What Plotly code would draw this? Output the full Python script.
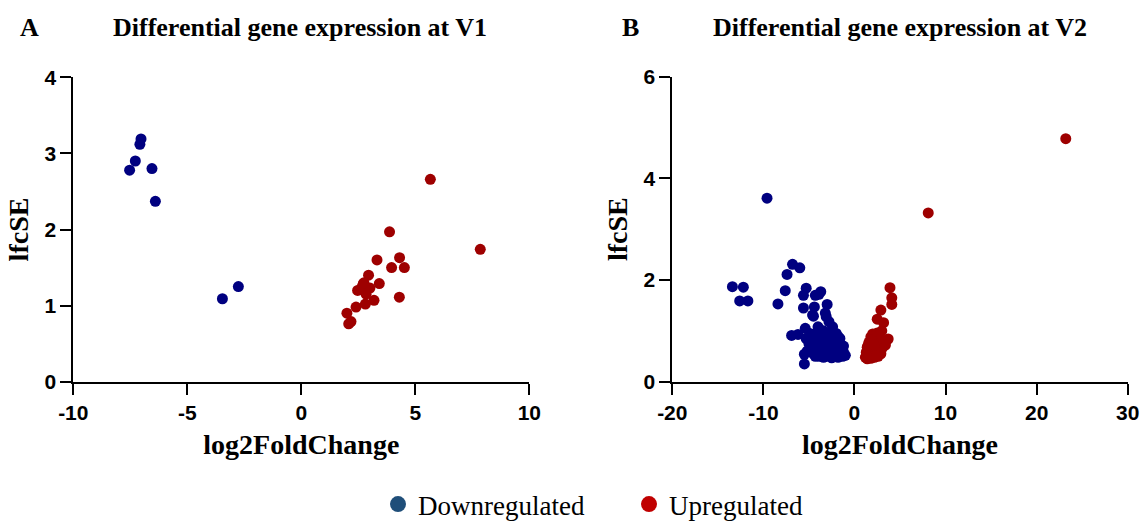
import plotly.graph_objects as go

# ---------------- data ----------------
v1_down_x = [-7.03, -7.08, -7.28, -7.53, -6.55, -6.40, -3.46, -2.76]
v1_down_y = [3.19, 3.12, 2.90, 2.78, 2.80, 2.37, 1.09, 1.25]
v1_up_x = [5.66, 3.87, 7.85, 3.32, 4.31, 3.96, 4.52, 2.95, 3.42, 2.72, 2.47,
           2.65, 3.01, 2.84, 2.75, 3.19, 4.30, 2.81, 2.40, 2.00, 2.08, 2.18]
v1_up_y = [2.66, 1.97, 1.74, 1.60, 1.63, 1.50, 1.50, 1.40, 1.29, 1.29, 1.20,
           1.24, 1.23, 1.15, 1.30, 1.07, 1.11, 1.02, 0.98, 0.90, 0.76, 0.79]

v2_down_x = [-9.6, -13.4, -12.2, -12.6, -11.7, -8.4, -7.6, -7.4, -6.8, -6.0,
             -6.9, -6.2, -5.5, -5.5, -5.3, -5.6, -5.6, -5.4, -4.3, -3.7, -3.9,
             -4.4, -4.5, -3.0, -3.1, -4.0, -2.4, -1.8, -3.2, -2.8, -4.6, -3.4,
             -5.0, -4.8, -4.7, -4.5, -4.4, -4.2, -4.1, -4.0, -3.9, -3.8, -3.7,
             -3.6, -3.5, -3.4, -3.3, -3.2, -3.1, -3.0, -2.9, -2.8, -2.7, -2.6,
             -2.5, -2.4, -2.3, -2.2, -2.1, -2.0, -1.9, -1.8, -1.7, -1.6, -1.5,
             -1.4, -1.3, -1.2, -1.0, -4.6, -4.3, -3.95, -3.55, -3.25, -2.95,
             -2.65, -2.35, -5.2, -5.3, -4.9, -2.5, -2.0, -1.6, -1.2]
v2_down_y = [3.61, 1.87, 1.86, 1.59, 1.59, 1.53, 1.79, 2.11, 2.31, 2.24,
             0.91, 0.93, 0.54, 0.35, 1.84, 1.70, 1.45, 1.05, 1.70, 1.77, 1.72,
             1.47, 1.29, 1.52, 1.28, 1.08, 1.08, 0.89, 1.35, 1.18, 1.31, 1.00,
             0.75, 0.62, 0.85, 0.55, 0.72, 0.95, 0.60, 0.82, 0.50, 0.68, 0.90,
             0.58, 0.77, 0.48, 0.65, 0.86, 0.55, 0.72, 0.95, 0.50, 0.62, 0.80,
             0.47, 0.70, 0.58, 0.88, 0.52, 0.66, 0.75, 0.48, 0.60, 0.70, 0.55,
             0.63, 0.50, 0.58, 0.52, 0.68, 0.50, 0.75, 0.65, 0.52, 0.60,
             0.72, 0.52, 0.60, 0.85, 0.95, 1.00, 0.95, 0.85, 0.70]

v2_up_x = [23.2, 8.1, 3.9, 4.1, 4.1, 2.9, 2.5, 3.2, 3.0, 3.7, 3.4,
           1.2, 1.3, 1.4, 1.5, 1.6, 1.7, 1.8, 1.8, 1.9, 2.0, 2.0, 2.1, 2.2,
           2.2, 2.3, 2.4, 2.4, 2.5, 2.6, 2.6, 2.7, 2.8, 2.9, 3.0, 1.4, 1.6,
           1.9, 2.1, 2.3, 1.7, 2.5, 2.7, 1.3, 1.5, 1.9, 2.2]
v2_up_y = [4.78, 3.32, 1.85, 1.65, 1.52, 1.41, 1.23, 1.16, 1.00, 0.84, 0.72,
           0.48, 0.58, 0.68, 0.50, 0.78, 0.60, 0.88, 0.46, 0.70, 0.55, 0.94, 0.80, 0.48,
           0.65, 0.90, 0.58, 0.75, 0.85, 0.50, 0.68, 0.60, 0.75, 0.55, 0.65, 0.45, 0.62,
           0.52, 0.60, 0.52, 0.72, 0.96, 0.90, 0.52, 0.72, 0.82, 0.72]

x1_ticks = [-10, -5, 0, 5, 10]
y1_ticks = [0, 1, 2, 3, 4]
x2_ticks = [-20, -10, 0, 10, 20, 30]
y2_ticks = [0, 2, 4, 6]

# ---------------- styles ----------------
DOWN = "#000080"
UP = "#9E0000"
LEG_DOWN = "#1F4E79"
LEG_UP = "#C00000"
SERIF = "Liberation Serif, Times New Roman, serif"
SANS = "Liberation Sans, Arial, sans-serif"
MS = 11

fig = go.Figure()
fig.add_trace(go.Scatter(x=v1_down_x, y=v1_down_y, mode="markers", xaxis="x", yaxis="y",
                         marker=dict(color=DOWN, size=MS), showlegend=False))
fig.add_trace(go.Scatter(x=v1_up_x, y=v1_up_y, mode="markers", xaxis="x", yaxis="y",
                         marker=dict(color=UP, size=MS), showlegend=False))
fig.add_trace(go.Scatter(x=v2_down_x, y=v2_down_y, mode="markers", xaxis="x2", yaxis="y2",
                         marker=dict(color=DOWN, size=MS), showlegend=False))
fig.add_trace(go.Scatter(x=v2_up_x, y=v2_up_y, mode="markers", xaxis="x2", yaxis="y2",
                         marker=dict(color=UP, size=MS), showlegend=False))
# legend entries
fig.add_trace(go.Scatter(x=[None], y=[None], mode="markers", name="Downregulated",
                         marker=dict(color=LEG_DOWN, size=20)))
fig.add_trace(go.Scatter(x=[None], y=[None], mode="markers", name="Upregulated",
                         marker=dict(color=LEG_UP, size=20)))

W, H = 1142, 529
def px(v):
    return v / W
def py(v):
    return 1 - v / H

axis_common = dict(
    showline=True, linecolor="black", linewidth=2, mirror=False,
    ticks="outside", ticklen=11, tickwidth=2, tickcolor="black",
    showgrid=False, zeroline=False, automargin=False,
    tickfont=dict(family=SANS, size=21, color="black", weight="bold"),
    title_font=dict(family=SERIF, size=28, color="black", weight="bold"),
)

def labels(vals):
    return [str(v) for v in vals]

fig.update_layout(
    width=W, height=H,
    margin=dict(l=0, r=0, t=0, b=0),
    paper_bgcolor="white", plot_bgcolor="white",
    xaxis=dict(axis_common, domain=[px(73.3), px(529.3)], range=[-10, 10],
               tickvals=x1_ticks, ticktext=labels(x1_ticks), anchor="y",
               title=dict(text="log2FoldChange", standoff=11)),
    yaxis=dict(axis_common, domain=[py(381.7), py(77.3)], range=[0, 4],
               tickvals=y1_ticks, ticktext=labels(y1_ticks), anchor="x",
               title=dict(text="lfcSE", standoff=8)),
    xaxis2=dict(axis_common, domain=[px(672.3), px(1127.7)], range=[-20, 30],
                tickvals=x2_ticks, ticktext=labels(x2_ticks), anchor="y2",
                title=dict(text="log2FoldChange", standoff=11)),
    yaxis2=dict(axis_common, domain=[py(381.7), py(76.7)], range=[0, 6],
                tickvals=y2_ticks, ticktext=labels(y2_ticks), anchor="x2",
                title=dict(text="lfcSE", standoff=8)),
    legend=dict(orientation="h", x=px(378), xanchor="left", y=0, yanchor="bottom",
                font=dict(family=SERIF, size=27, color="black"),
                itemsizing="trace", tracegroupgap=0, entrywidth=206),
    annotations=[
        dict(text="<b>A</b>", x=px(29), y=py(28), xref="paper", yref="paper",
             xanchor="center", yanchor="middle",
             showarrow=False, font=dict(family=SERIF, size=26, color="black")),
        dict(text="<b>Differential gene expression at V1</b>", x=px(300), y=py(28),
             xref="paper", yref="paper", showarrow=False, xanchor="center", yanchor="middle",
             font=dict(family=SERIF, size=26, color="black")),
        dict(text="<b>B</b>", x=px(630), y=py(28), xref="paper", yref="paper",
             xanchor="center", yanchor="middle",
             showarrow=False, font=dict(family=SERIF, size=26, color="black")),
        dict(text="<b>Differential gene expression at V2</b>", x=px(900), y=py(28),
             xref="paper", yref="paper", showarrow=False, xanchor="center", yanchor="middle",
             font=dict(family=SERIF, size=26, color="black")),
    ],
)

fig.write_html("out.html")
